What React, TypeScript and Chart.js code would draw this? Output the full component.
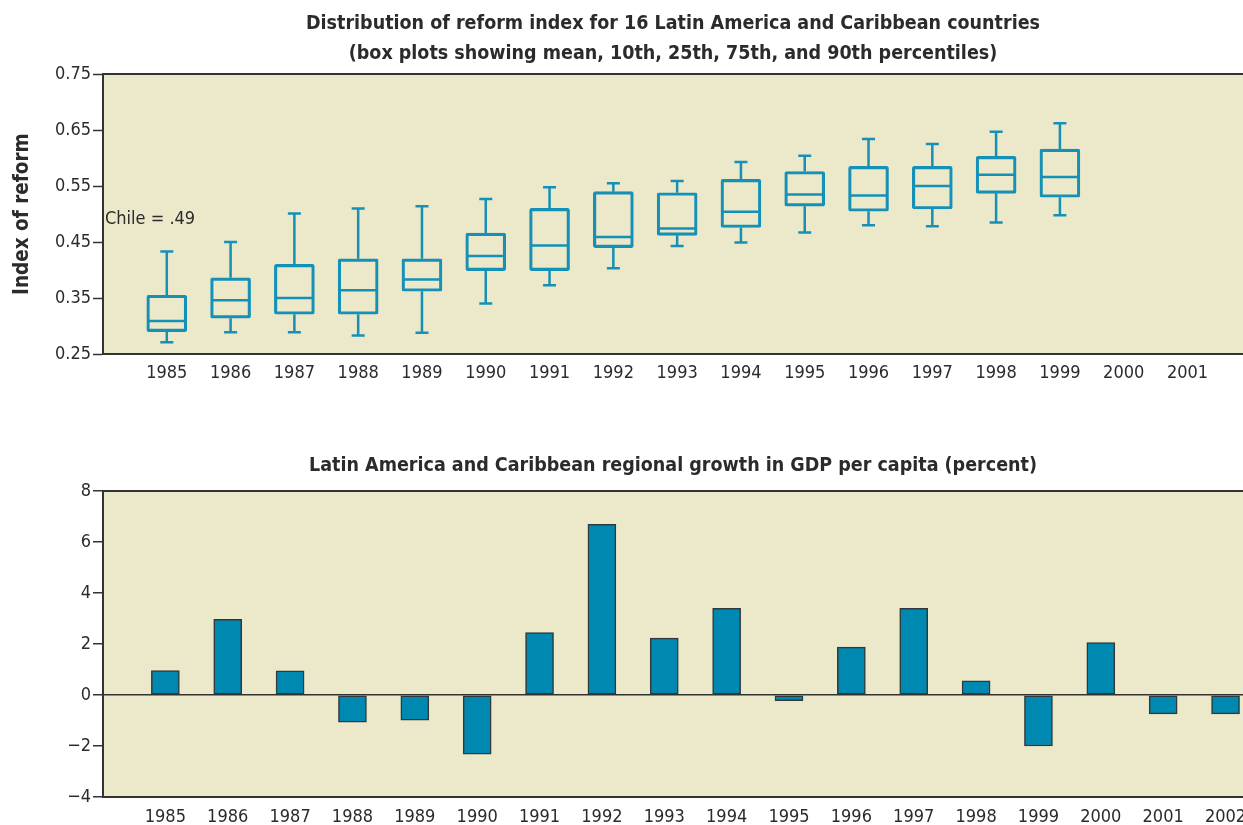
import React, { useEffect, useRef } from "react";
import { Chart, registerables } from "chart.js";

Chart.register(...registerables);

// ---------- DATA ----------
const TOP_TICK_YEARS = [1985, 1986, 1987, 1988, 1989, 1990, 1991, 1992, 1993, 1994, 1995, 1996, 1997, 1998, 1999, 2000, 2001];
const BOX_YEARS = [1985, 1986, 1987, 1988, 1989, 1990, 1991, 1992, 1993, 1994, 1995, 1996, 1997, 1998, 1999];
const P90 = [0.433, 0.450, 0.501, 0.510, 0.514, 0.527, 0.548, 0.555, 0.559, 0.593, 0.604, 0.634, 0.625, 0.647, 0.662];
const P75 = [0.355, 0.386, 0.410, 0.420, 0.420, 0.466, 0.510, 0.540, 0.538, 0.562, 0.576, 0.585, 0.585, 0.603, 0.616];
const MEAN = [0.309, 0.346, 0.350, 0.364, 0.383, 0.425, 0.444, 0.459, 0.474, 0.504, 0.535, 0.533, 0.550, 0.570, 0.566];
const P25 = [0.290, 0.314, 0.321, 0.321, 0.362, 0.399, 0.399, 0.440, 0.462, 0.476, 0.514, 0.505, 0.509, 0.537, 0.530];
const P10 = [0.271, 0.289, 0.289, 0.283, 0.288, 0.340, 0.373, 0.403, 0.443, 0.449, 0.467, 0.480, 0.478, 0.485, 0.498];
const TOP_Y_TICKS = [0.25, 0.35, 0.45, 0.55, 0.65, 0.75];
const CHILE_VALUE = 0.49;
const CHILE_LABEL = "Chile = .49";

const GDP_YEARS = [1985, 1986, 1987, 1988, 1989, 1990, 1991, 1992, 1993, 1994, 1995, 1996, 1997, 1998, 1999, 2000, 2001, 2002];
const GDP_GROWTH = [0.96, 2.97, 0.95, -1.07, -0.99, -2.32, 2.45, 6.69, 2.23, 3.4, -0.22, 1.875, 3.4, 0.56, -2.0, 2.06, -0.74, -0.74];
const BOTTOM_Y_TICKS = [-4, -2, 0, 2, 4, 6, 8];

const TOP_TITLE = [
  "Distribution of reform index for 16 Latin America and Caribbean countries",
  "(box plots showing mean, 10th, 25th, 75th, and 90th percentiles)",
];
const BOTTOM_TITLE = "Latin America and Caribbean regional growth in GDP per capita (percent)";
const Y_TITLE_TOP = "Index of reform";

// ---------- STYLE ----------
const FONT = '"DejaVu Sans Condensed", "Liberation Sans Narrow", "Noto Sans", sans-serif';
const TEXT = "#2b2b2b";
const AXIS = "#333333";
const PLOT_BG = "#ECE8CA";
const BOX_COLOR = "#1590B6";
const BAR_FILL = "#0089B0";
const BAR_EDGE = "#30383a";

const framePlugin = {
  id: "frame",
  beforeDraw(chart: any) {
    const { ctx, chartArea } = chart;
    ctx.save();
    ctx.fillStyle = PLOT_BG;
    ctx.fillRect(chartArea.left, chartArea.top, chartArea.right - chartArea.left, chartArea.bottom - chartArea.top);
    ctx.restore();
  },
  afterDraw(chart: any) {
    const { ctx, chartArea } = chart;
    ctx.save();
    ctx.strokeStyle = AXIS;
    ctx.lineWidth = 2;
    ctx.beginPath();
    ctx.moveTo(chartArea.left, chartArea.top);
    ctx.lineTo(chartArea.right, chartArea.top);
    ctx.stroke();
    ctx.restore();
  },
};

const boxPlugin = {
  id: "boxExtras",
  afterDatasetsDraw(chart: any) {
    const { ctx, chartArea } = chart;
    const yS = chart.scales.y;
    const meta = chart.getDatasetMeta(0);
    ctx.save();
    ctx.strokeStyle = BOX_COLOR;
    ctx.lineWidth = 2.5;
    ctx.lineCap = "butt";
    const capHalf = 6.5;
    meta.data.forEach((el: any, i: number) => {
      const x = el.x;
      const half = el.width / 2 - 1;
      const yMean = yS.getPixelForValue(MEAN[i]);
      const y75 = yS.getPixelForValue(P75[i]);
      const y90 = yS.getPixelForValue(P90[i]);
      const y25 = yS.getPixelForValue(P25[i]);
      const y10 = yS.getPixelForValue(P10[i]);
      ctx.beginPath();
      ctx.moveTo(x - half, yMean);
      ctx.lineTo(x + half, yMean);
      ctx.moveTo(x, y75);
      ctx.lineTo(x, y90);
      ctx.moveTo(x - capHalf, y90);
      ctx.lineTo(x + capHalf, y90);
      ctx.moveTo(x, y25);
      ctx.lineTo(x, y10);
      ctx.moveTo(x - capHalf, y10);
      ctx.lineTo(x + capHalf, y10);
      ctx.stroke();
    });
    ctx.fillStyle = TEXT;
    ctx.font = `18px ${FONT}`;
    ctx.textAlign = "left";
    ctx.textBaseline = "middle";
    ctx.fillText(CHILE_LABEL, chartArea.left + 2, yS.getPixelForValue(CHILE_VALUE));
    ctx.restore();
  },
};

function fixY(width: number) {
  return (scale: any) => {
    scale.width = width;
    scale.paddingTop = 0;
    scale.paddingBottom = 0;
  };
}
function fixX(height: number) {
  return (scale: any) => {
    scale.height = height;
    scale.paddingLeft = 0;
    scale.paddingRight = 0;
  };
}

export default function App() {
  const topRef = useRef<HTMLCanvasElement>(null);
  const botRef = useRef<HTMLCanvasElement>(null);

  useEffect(() => {
    document.body.style.margin = "0";
    const tickFont = { family: FONT, size: 18 };
    const titleFont = { family: FONT, size: 19.5, weight: "bold", lineHeight: 1.54 };

    const top = new Chart(topRef.current as HTMLCanvasElement, {
      type: "bar",
      data: {
        datasets: [
          {
            data: BOX_YEARS.map((yr, i) => ({ x: yr, y: [P25[i], P75[i]] })) as any,
            backgroundColor: "rgba(0,0,0,0)",
            borderColor: BOX_COLOR,
            borderWidth: 2.5,
            borderRadius: 2,
            borderSkipped: false,
            barThickness: 40,
          },
        ],
      },
      options: {
        responsive: false,
        animation: false,
        events: [],
        layout: { padding: 0 },
        plugins: {
          legend: { display: false },
          tooltip: { enabled: false },
          title: {
            display: true,
            text: TOP_TITLE,
            fullSize: false,
            color: TEXT,
            font: titleFont,
            padding: { top: 9, bottom: 5 },
          },
        },
        scales: {
          x: {
            type: "linear",
            min: 1984,
            max: 2001.87,
            offset: false,
            afterBuildTicks: (s: any) => {
              s.ticks = TOP_TICK_YEARS.map((v) => ({ value: v }));
            },
            afterFit: fixX(46),
            ticks: { color: TEXT, font: tickFont, padding: 9, callback: (v: any) => String(v), maxRotation: 0, autoSkip: false },
            grid: { display: true, drawOnChartArea: false, drawTicks: false, offset: false },
            border: { display: true, color: AXIS, width: 2 },
          },
          y: {
            min: 0.25,
            max: 0.75,
            afterBuildTicks: (s: any) => {
              s.ticks = TOP_Y_TICKS.map((v) => ({ value: v }));
            },
            afterFit: fixY(103),
            ticks: { color: TEXT, font: tickFont, padding: 2, callback: (v: any) => Number(v).toFixed(2) },
            grid: { display: true, drawOnChartArea: false, drawTicks: true, tickLength: 10, tickColor: AXIS, tickWidth: 1.5 },
            border: { display: true, color: AXIS, width: 2 },
            title: {
              display: true,
              text: Y_TITLE_TOP,
              color: TEXT,
              font: { family: FONT, size: 20.5, weight: "bold" },
              padding: { top: 10, bottom: 0 },
            },
          },
        },
      } as any,
      plugins: [framePlugin, boxPlugin],
    });

    const bottom = new Chart(botRef.current as HTMLCanvasElement, {
      type: "bar",
      data: {
        datasets: [
          {
            data: GDP_YEARS.map((yr, i) => ({ x: yr, y: GDP_GROWTH[i] })) as any,
            backgroundColor: BAR_FILL,
            borderColor: BAR_EDGE,
            borderWidth: 1.5,
            borderSkipped: false,
            barThickness: 28,
          },
        ],
      },
      options: {
        responsive: false,
        animation: false,
        events: [],
        layout: { padding: 0 },
        plugins: {
          legend: { display: false },
          tooltip: { enabled: false },
          title: {
            display: true,
            text: BOTTOM_TITLE,
            fullSize: false,
            color: TEXT,
            font: titleFont,
            padding: { top: 51, bottom: 10 },
          },
        },
        scales: {
          x: {
            type: "linear",
            min: 1984,
            max: 2002.28,
            offset: false,
            afterBuildTicks: (s: any) => {
              s.ticks = GDP_YEARS.map((v) => ({ value: v }));
            },
            afterFit: fixX(28),
            ticks: { color: TEXT, font: tickFont, padding: 10, callback: (v: any) => String(v), maxRotation: 0, autoSkip: false },
            grid: { display: true, drawOnChartArea: false, drawTicks: false, offset: false },
            border: { display: true, color: AXIS, width: 2 },
          },
          y: {
            min: -4,
            max: 8,
            afterBuildTicks: (s: any) => {
              s.ticks = BOTTOM_Y_TICKS.map((v) => ({ value: v }));
            },
            afterFit: fixY(103),
            ticks: {
              color: TEXT,
              font: tickFont,
              padding: 2,
              callback: (v: any) => (Number(v) < 0 ? "\u2212" + Math.abs(Number(v)) : String(v)),
            },
            grid: {
              display: true,
              drawOnChartArea: true,
              drawTicks: true,
              tickLength: 10,
              tickColor: AXIS,
              tickWidth: 1.5,
              lineWidth: 1.5,
              color: (c: any) => (c.tick && c.tick.value === 0 ? AXIS : "rgba(0,0,0,0)"),
            },
            border: { display: true, color: AXIS, width: 2 },
          },
        },
      } as any,
      plugins: [framePlugin],
    });

    return () => {
      top.destroy();
      bottom.destroy();
    };
  }, []);

  return (
    <div style={{ position: "fixed", left: 0, top: 0, width: 1243, height: 825, overflow: "hidden", background: "#fff" }}>
      <canvas ref={topRef} width={1243} height={400} style={{ position: "absolute", left: 0, top: 0, display: "block" }} />
      <canvas ref={botRef} width={1243} height={425} style={{ position: "absolute", left: 0, top: 400, display: "block" }} />
    </div>
  );
}
